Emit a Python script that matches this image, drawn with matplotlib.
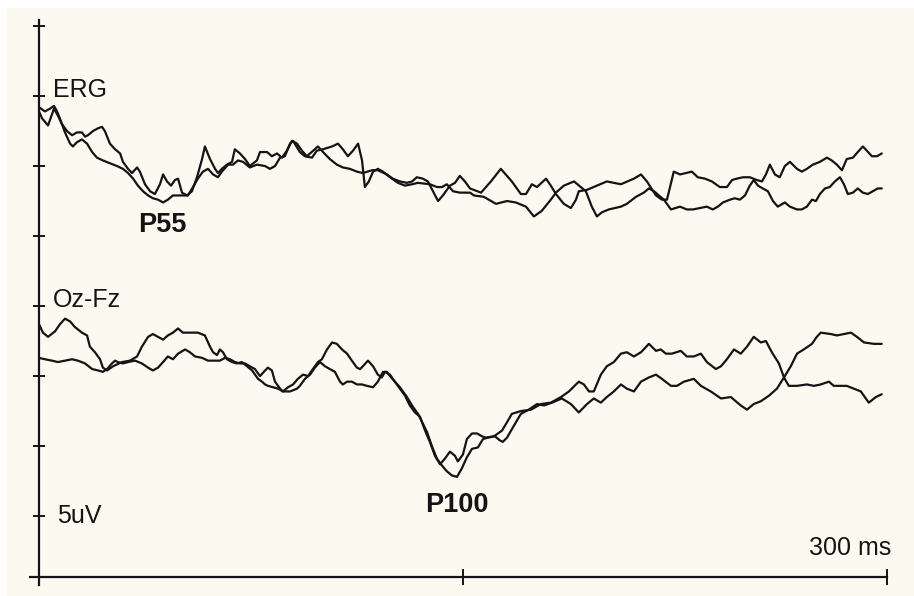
from matplotlib import pyplot as plt
from matplotlib.patches import Rectangle

# two ERG sweeps and two Oz-Fz sweeps, time in ms, amplitude in uV (relative to channel baseline)
ERG_A_MS = [
    0.0, 1.1, 3.2, 4.6, 5.3, 6.7, 8.1, 9.9, 11.7, 13.4,
    15.2, 16.3, 17.3, 19.1, 20.9, 22.3, 23.3, 25.1, 26.9, 28.7,
    29.7, 31.5, 32.9, 34.7, 35.7, 37.5, 39.3, 41.0, 42.8, 43.9,
    45.3, 46.7, 48.1, 49.2, 50.6, 52.4, 54.1, 55.9, 57.7, 58.7,
    60.5, 62.3, 63.3, 64.7, 66.5, 68.3, 69.3, 71.1, 72.9, 74.6,
    77.1, 78.2, 80.7, 82.4, 84.2, 86.0, 87.7, 89.5, 91.3, 93.0,
    94.8, 95.9, 97.6, 98.7, 100.5, 102.9, 105.4, 107.5, 110.0, 112.5,
    114.6, 117.8, 119.9, 123.1, 125.2, 127.7, 130.2, 132.0, 133.7, 135.8,
    137.6, 139.4, 141.2, 142.9, 145.4, 147.2, 148.9, 150.7, 152.5, 156.4,
    159.9, 163.4, 167.3, 170.5, 172.3, 174.4, 176.2, 179.4, 181.1, 182.9,
    185.7, 188.2, 190.0, 191.0, 193.9, 197.4, 200.9, 205.9, 210.5, 213.0,
    215.1, 218.3, 220.4, 222.2, 224.6, 226.8, 231.0, 233.1, 235.6, 238.1,
    240.9, 243.4, 245.2, 246.9, 249.1, 251.5, 254.0, 255.8, 257.2, 258.6,
    260.4, 262.1, 263.9, 265.7, 268.2, 269.9, 271.7, 273.8, 276.3, 278.8,
    280.5, 282.3, 284.1, 285.8, 288.0, 289.7, 291.5, 292.9, 294.7, 296.5,
    298.2,
]
ERG_A_UV = [
    -1.1, -1.6, -2.1, -1.3, -0.9, -1.4, -2.0, -2.5, -2.8, -2.6,
    -2.6, -2.9, -2.8, -2.5, -2.3, -2.2, -2.5, -3.4, -3.8, -4.1,
    -4.7, -5.2, -5.5, -5.1, -5.4, -6.3, -6.8, -7.0, -6.3, -5.6,
    -6.1, -6.4, -6.0, -5.9, -6.9, -7.1, -6.8, -5.8, -4.5, -3.6,
    -4.5, -5.2, -5.5, -5.2, -4.9, -4.7, -3.8, -4.1, -4.5, -5.0,
    -4.6, -4.0, -4.0, -4.3, -4.1, -4.4, -3.9, -3.2, -3.4, -3.9,
    -4.3, -4.1, -3.8, -3.6, -4.0, -4.5, -4.9, -5.1, -5.2, -5.4,
    -5.5, -5.3, -5.3, -5.6, -5.9, -6.1, -6.2, -6.1, -5.8, -5.9,
    -6.1, -6.8, -7.5, -7.1, -6.4, -6.2, -5.7, -6.1, -6.6, -6.9,
    -6.1, -5.2, -6.1, -7.0, -7.0, -6.3, -6.5, -5.9, -6.4, -7.0,
    -7.7, -8.0, -7.4, -6.8, -6.7, -6.4, -6.1, -6.3, -5.9, -5.6,
    -6.1, -7.1, -7.4, -7.4, -5.4, -5.6, -5.4, -5.8, -5.9, -6.1,
    -6.5, -6.5, -6.0, -5.9, -5.8, -5.8, -6.0, -6.1, -5.6, -4.9,
    -5.6, -5.8, -5.0, -4.7, -5.2, -5.4, -5.2, -4.9, -4.7, -4.4,
    -4.6, -4.9, -5.3, -4.5, -4.4, -4.0, -3.6, -3.9, -4.3, -4.3,
    -4.1,
]

ERG_B_MS = [
    0.0, 2.1, 3.9, 5.3, 6.4, 7.4, 9.2, 11.0, 12.0, 13.4,
    15.2, 17.0, 18.8, 20.5, 22.6, 25.1, 27.6, 29.7, 31.5, 33.3,
    35.0, 36.8, 38.6, 40.3, 42.1, 43.9, 45.6, 47.4, 49.2, 50.9,
    52.7, 54.5, 56.2, 58.0, 59.8, 61.6, 63.3, 64.7, 66.9, 68.6,
    70.4, 72.2, 74.6, 77.1, 80.0, 81.7, 83.5, 85.3, 87.0, 88.8,
    89.9, 92.3, 94.1, 96.6, 98.3, 100.5, 103.7, 105.8, 107.5, 109.3,
    111.1, 112.9, 114.3, 115.3, 116.7, 118.2, 119.9, 121.7, 124.2, 127.0,
    129.5, 132.0, 134.1, 138.3, 140.8, 142.6, 144.3, 146.5, 148.9, 152.5,
    153.9, 157.4, 161.7, 165.6, 168.7, 172.3, 175.1, 177.9, 181.1, 182.9,
    185.7, 189.3, 193.5, 195.6, 197.4, 199.2, 201.6, 205.9, 208.0, 211.2,
    214.0, 215.8, 217.6, 219.3, 221.1, 223.6, 226.8, 229.2, 231.4, 233.8,
    236.3, 238.4, 240.2, 242.0, 244.5, 246.2, 248.0, 249.8, 251.5, 252.9,
    254.4, 256.1, 257.9, 259.7, 261.4, 263.9, 265.7, 268.2, 269.9, 271.7,
    273.5, 274.9, 276.3, 278.1, 279.8, 281.6, 283.4, 284.8, 286.2, 288.0,
    289.7, 291.5, 293.3, 295.0, 296.8, 298.2,
]
ERG_B_UV = [
    -0.8, -1.1, -0.9, -0.7, -1.1, -1.6, -2.6, -3.4, -3.6, -3.3,
    -3.1, -3.4, -4.0, -4.4, -4.6, -4.8, -5.0, -5.2, -5.5, -5.9,
    -6.4, -6.8, -7.1, -7.3, -7.4, -7.6, -7.4, -7.1, -7.1, -7.1,
    -7.1, -6.5, -5.9, -5.4, -5.2, -5.6, -5.8, -5.4, -4.9, -4.9,
    -4.6, -4.7, -5.1, -4.9, -5.0, -5.2, -5.0, -4.4, -4.3, -3.4,
    -3.2, -4.0, -4.3, -4.4, -3.9, -3.8, -3.6, -3.4, -3.8, -4.3,
    -3.9, -3.4, -4.6, -6.5, -6.1, -5.4, -5.2, -5.4, -5.8, -6.2,
    -6.4, -6.3, -6.2, -6.3, -6.5, -6.5, -6.3, -6.8, -6.9, -6.9,
    -7.1, -7.2, -7.7, -7.5, -7.6, -7.9, -8.6, -8.2, -7.4, -6.9,
    -6.4, -6.1, -6.8, -7.9, -8.6, -8.3, -8.1, -7.9, -7.7, -7.2,
    -6.9, -6.6, -6.8, -7.1, -7.4, -8.1, -7.9, -8.1, -8.1, -8.0,
    -7.9, -8.1, -7.9, -7.6, -7.4, -7.3, -7.4, -7.1, -6.4, -6.0,
    -6.4, -6.6, -6.8, -7.5, -7.9, -7.6, -7.9, -8.1, -8.1, -7.9,
    -7.4, -7.5, -7.0, -6.6, -6.5, -6.1, -5.8, -6.3, -7.0, -6.9,
    -6.6, -6.9, -7.0, -6.8, -6.6, -6.6,
]

OZ_A_MS = [
    0.0, 1.4, 3.2, 5.7, 7.4, 9.2, 11.0, 12.7, 15.2, 17.0,
    18.0, 19.8, 21.6, 22.6, 24.1, 26.2, 29.4, 32.2, 34.7, 36.4,
    38.6, 40.3, 42.1, 43.9, 45.6, 47.4, 49.2, 50.9, 53.4, 56.2,
    58.7, 60.5, 61.6, 63.0, 64.0, 65.1, 66.5, 68.3, 70.0, 71.8,
    73.6, 75.4, 77.5, 78.9, 80.0, 81.0, 82.8, 84.6, 86.3, 88.8,
    91.3, 92.3, 94.1, 95.9, 97.6, 99.4, 101.2, 102.9, 104.7, 106.5,
    107.5, 109.0, 110.7, 112.5, 114.3, 116.0, 118.2, 119.9, 121.7, 123.1,
    124.2, 125.9, 127.7, 129.5, 131.2, 133.0, 134.8, 136.6, 138.3, 140.1,
    141.9, 143.6, 145.4, 147.2, 148.2, 150.0, 151.4, 153.2, 155.0, 156.7,
    158.1, 161.0, 163.8, 165.6, 167.3, 170.5, 174.1, 177.6, 181.1, 184.7,
    187.5, 191.0, 192.8, 194.6, 196.3, 198.8, 200.9, 203.4, 205.9, 208.0,
    210.5, 213.0, 215.8, 218.3, 220.0, 221.8, 223.9, 227.1, 229.2, 231.7,
    234.2, 236.3, 239.5, 241.3, 243.4, 245.9, 248.3, 250.5, 252.9, 255.4,
    257.2, 259.3, 261.8, 263.6, 265.3, 268.2, 271.7, 274.2, 276.6, 279.5,
    281.2, 283.7, 285.8, 288.3, 290.8, 293.6, 296.1, 298.2,
]
OZ_A_UV = [
    -1.3, -1.9, -2.2, -1.8, -1.3, -0.9, -1.1, -1.5, -1.9, -2.1,
    -2.9, -3.3, -3.8, -4.4, -4.6, -4.3, -4.0, -3.9, -3.6, -2.9,
    -2.2, -2.0, -2.2, -2.4, -2.1, -1.9, -1.6, -1.9, -1.9, -1.9,
    -2.1, -2.9, -3.3, -3.5, -3.1, -3.3, -3.8, -4.0, -4.1, -4.0,
    -4.3, -4.6, -5.2, -5.4, -5.6, -5.7, -5.8, -5.9, -6.1, -6.1,
    -5.9, -5.7, -5.2, -4.9, -4.4, -4.0, -4.3, -4.5, -4.7, -5.4,
    -5.6, -5.4, -5.4, -5.6, -5.6, -5.7, -5.8, -5.4, -4.7, -4.7,
    -5.0, -5.4, -5.9, -6.4, -7.1, -7.6, -7.9, -8.9, -9.7, -10.7,
    -11.3, -10.9, -10.4, -10.7, -11.1, -10.6, -9.5, -9.1, -9.1, -9.3,
    -9.4, -9.3, -8.9, -8.3, -7.7, -7.5, -7.4, -7.0, -6.9, -6.5,
    -6.1, -5.4, -5.6, -6.1, -6.1, -4.9, -4.3, -4.0, -3.4, -3.3,
    -3.6, -3.3, -2.7, -3.2, -3.1, -3.4, -3.4, -3.2, -3.6, -3.6,
    -3.4, -4.0, -4.5, -4.3, -3.8, -3.1, -3.4, -2.9, -2.2, -2.6,
    -2.5, -3.3, -4.1, -5.1, -5.7, -5.7, -5.6, -5.7, -5.6, -5.4,
    -5.7, -5.7, -5.7, -5.9, -6.1, -6.9, -6.5, -6.3,
]

OZ_B_MS = [
    0.0, 2.1, 4.6, 6.7, 9.2, 11.7, 13.8, 16.3, 18.8, 20.9,
    22.6, 24.1, 25.8, 26.9, 27.9, 29.7, 31.5, 34.0, 36.4, 38.6,
    40.3, 42.1, 43.9, 45.6, 47.4, 49.2, 51.7, 53.4, 55.2, 57.7,
    59.8, 62.3, 64.0, 65.8, 67.6, 69.3, 71.1, 72.9, 74.6, 76.4,
    78.2, 80.0, 81.0, 82.4, 83.5, 85.3, 86.3, 88.1, 89.9, 91.6,
    93.4, 95.2, 96.9, 98.7, 100.1, 101.9, 103.7, 105.4, 107.2, 109.0,
    110.7, 112.5, 113.6, 114.6, 116.4, 118.2, 119.9, 121.3, 122.4, 124.2,
    125.9, 127.7, 130.2, 132.3, 134.1, 135.8, 137.3, 139.0, 140.8, 142.6,
    144.3, 146.1, 147.9, 149.6, 151.4, 153.2, 155.3, 157.1, 158.8, 161.3,
    163.1, 164.1, 165.6, 167.3, 170.5, 173.3, 176.2, 178.7, 181.5, 185.0,
    188.2, 191.0, 193.9, 196.3, 198.8, 200.9, 203.4, 205.9, 208.0, 210.5,
    213.0, 215.8, 218.3, 220.4, 223.6, 225.7, 228.2, 231.7, 234.2, 237.7,
    241.3, 244.8, 248.3, 250.5, 252.9, 255.4, 258.3, 261.1, 263.6, 266.0,
    268.2, 270.6, 273.5, 275.2, 276.6, 280.2, 282.3, 284.8, 287.3, 289.4,
    291.9, 295.4, 298.2,
]
OZ_B_UV = [
    -3.7, -3.8, -3.9, -4.0, -3.9, -3.8, -3.9, -4.1, -4.5, -4.6,
    -4.7, -4.5, -4.1, -3.9, -4.0, -4.1, -4.0, -3.9, -4.1, -4.4,
    -4.6, -4.4, -4.0, -3.6, -3.8, -3.4, -3.1, -3.3, -3.6, -3.7,
    -3.9, -3.9, -3.9, -3.7, -3.8, -4.0, -4.1, -4.1, -4.3, -4.5,
    -5.0, -4.6, -4.4, -4.6, -5.4, -5.9, -6.1, -5.8, -5.6, -5.2,
    -4.9, -5.0, -4.5, -4.0, -3.8, -3.1, -2.6, -2.7, -3.1, -3.4,
    -3.9, -4.4, -4.5, -4.3, -3.9, -4.3, -4.9, -5.1, -4.7, -4.9,
    -5.4, -5.8, -6.5, -7.2, -7.7, -8.4, -9.0, -10.0, -10.9, -11.4,
    -11.8, -12.1, -12.2, -11.6, -10.8, -10.2, -10.1, -9.5, -9.4, -9.3,
    -9.6, -9.7, -9.4, -8.8, -7.7, -7.4, -7.0, -7.1, -6.9, -6.6,
    -7.0, -7.6, -7.0, -6.6, -6.9, -6.5, -6.1, -5.6, -5.9, -6.1,
    -5.4, -5.1, -4.9, -5.2, -5.7, -5.7, -5.4, -5.2, -5.7, -6.1,
    -6.6, -6.5, -7.1, -7.4, -7.0, -6.8, -6.4, -5.9, -5.1, -4.3,
    -3.4, -3.1, -2.7, -2.2, -1.9, -2.0, -2.1, -2.0, -1.9, -2.2,
    -2.6, -2.7, -2.7,
]

ERG_BASELINE = 30
OZ_BASELINE = 15
Y_TICKS = [0, 5, 10, 15, 20, 25, 30, 35]
X_TICKS = [150, 300]

PAPER = '#fcfaf0'
INK = '#141414'
FONT = ['Liberation Sans', 'DejaVu Sans']
LABEL_SIZE = 18
PEAK_SIZE = 19.5


def draw_trace(ax, times, values, baseline):
    ax.plot(times, [baseline + v for v in values], color=INK, lw=1.6,
            solid_joinstyle='round', solid_capstyle='round', zorder=3)


fig = plt.figure(figsize=(9.14, 5.96), dpi=100)
fig.patch.set_facecolor('white')
# scanned page: cream paper with a thin white margin at top and left
fig.patches.append(Rectangle((7 / 914, 0), 1, 588 / 596, transform=fig.transFigure,
                             facecolor=PAPER, edgecolor='none', zorder=-10))

ax = fig.add_axes([0, 0, 1, 1])
ax.patch.set_visible(False)
ax.set_xlim(-13.8, 309.6)
ax.set_ylim(-5.71, 36.86)

draw_trace(ax, ERG_A_MS, ERG_A_UV, ERG_BASELINE)
draw_trace(ax, ERG_B_MS, ERG_B_UV, ERG_BASELINE)
draw_trace(ax, OZ_A_MS, OZ_A_UV, OZ_BASELINE)
draw_trace(ax, OZ_B_MS, OZ_B_UV, OZ_BASELINE)

# axes drawn as crossing spines, like a calibration frame
ax.spines[['top', 'right']].set_visible(False)
ax.spines['left'].set_position(('data', 0))
ax.spines['left'].set_bounds(-4.9, 35.4)
ax.spines['bottom'].set_position(('data', -4.36))
ax.spines['bottom'].set_bounds(-3.2, 300)
for side in ['left', 'bottom']:
    ax.spines[side].set_linewidth(1.6)
    ax.spines[side].set_color(INK)
ax.set_yticks(Y_TICKS)
ax.set_xticks(X_TICKS)
ax.tick_params(axis='y', direction='inout', length=9, width=1.4, color=INK, labelleft=False)
ax.tick_params(axis='x', direction='inout', length=11, width=1.4, color=INK, labelbottom=False)

ax.text(4.95, 29.93, 'ERG', fontsize=LABEL_SIZE, family=FONT, color=INK, va='baseline')
ax.text(4.95, 14.93, 'Oz-Fz', fontsize=LABEL_SIZE, family=FONT, color=INK, va='baseline')
ax.text(6.4, -0.5, '5uV', fontsize=LABEL_SIZE, family=FONT, color=INK, va='baseline')
ax.text(301.4, -2.79, '300 ms', fontsize=LABEL_SIZE, family=FONT, color=INK, va='baseline', ha='right')
ax.text(35.0, 20.3, 'P55', fontsize=PEAK_SIZE, family=FONT, color=INK, va='baseline', fontweight='bold')
ax.text(136.6, 0.29, 'P100', fontsize=PEAK_SIZE, family=FONT, color=INK, va='baseline', fontweight='bold')

plt.savefig('out.png', dpi=100, facecolor=fig.get_facecolor())
